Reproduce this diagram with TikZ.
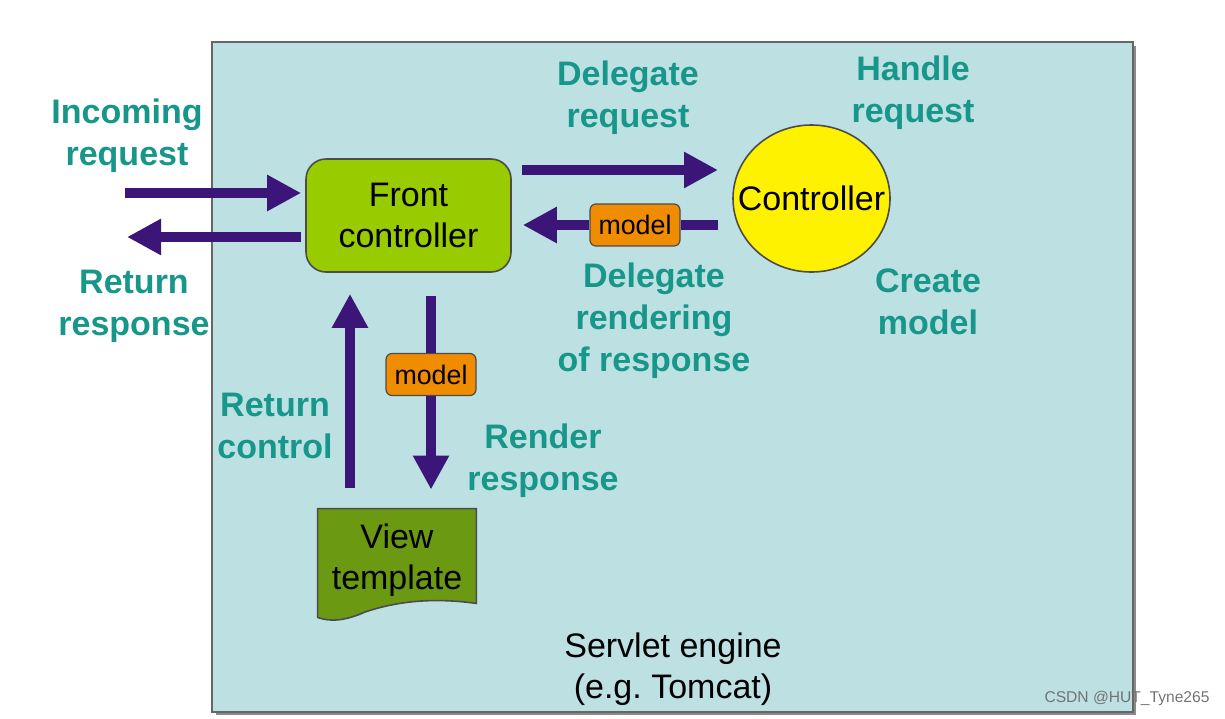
\documentclass[tikz,border=0pt]{standalone}
\usepackage{fontspec}
\setmainfont{Liberation Sans}
\usetikzlibrary{positioning}
\usetikzlibrary{arrows.meta}
\definecolor{skyback}{HTML}{BDE0E3}
\definecolor{tealtext}{HTML}{17968A}
\definecolor{arrowpurple}{HTML}{3B1678}
\definecolor{limegreen}{HTML}{99CC00}
\definecolor{olivegreen}{HTML}{6B9A12}
\definecolor{modelorange}{HTML}{F08C00}
\tikzset{>={Triangle[length=17pt,width=17pt]},
	% arrow style
	flow/.style={draw=arrowpurple,line width=5pt},
	% teal labels
	note/.style={text=tealtext,font=\fontsize{17}{21}\selectfont\bfseries,align=center},
	% boxes
	fcbox/.style={draw=black!70,fill=limegreen,rounded corners=10pt,line width=0.8pt,
		minimum width=102.5pt,minimum height=56.5pt,align=center,font=\fontsize{17}{20.5}\selectfont},
	modelbox/.style={draw=black!70,fill=modelorange,rounded corners=3pt,line width=0.6pt,
		minimum width=45pt,minimum height=21pt,inner sep=0pt,font=\fontsize{13.4}{16}\selectfont},
}

\begin{document}
\begin{tikzpicture}[x=0.5pt,y=-0.5pt]
\useasboundingbox (0,0) rectangle (1225,718);
% the servlet engine area
\fill[black!45] (216,46) rectangle (1136,715);
\draw[fill=skyback,draw=black!60,line width=0.8pt] (212,42) rectangle (1133,712);
% the nodes
\node[fcbox] (fc) at (408.5,215.5) {Front\\controller};
\fill[yellow,draw=black!70,line width=0.8pt] (811.5,198.5) ellipse (39.25pt and 36.75pt);
\node[inner sep=0pt,font=\fontsize{17}{20}\selectfont] (ctrl) at (811.5,198.5) {Controller};
\node[minimum width=79pt,minimum height=56.5pt,inner sep=0pt] (view) at (397,565.5) {};
\fill[olivegreen,draw=black!70,line width=0.8pt] (view.north west) -- (view.north east)
	-- ([yshift=9.5pt]view.south east) .. controls (430,597) and (395,602) .. (365,612)
	.. controls (345,621) and (330,622) .. ([yshift=2.5pt]view.south west) -- cycle;
\node[align=center,font=\fontsize{17}{20.5}\selectfont] (viewtext) at (397,560) {View\\template};
\node[modelbox] (mb1) at (635,225) {model};
\node[modelbox] (mb2) at (431,374.5) {model};
% free ends outside the engine
\coordinate (inreq) at (125,193);
\coordinate (outresp) at (127,237);
% the arrows
\draw[flow,->] (inreq) -- ([xshift=-2pt,yshift=11.25pt]fc.west);
\draw[flow,->] ([xshift=-2pt,yshift=-10.75pt]fc.west) -- (outresp);
\draw[flow,->] ([xshift=5pt,yshift=22.75pt]fc.east) -- ([xshift=-46.75pt,yshift=14.25pt]ctrl.center);
\draw[flow] ([xshift=-46.75pt,yshift=-13.25pt]ctrl.center) -- (mb1.east);
\draw[flow,->] (mb1.west) -- ([xshift=5.5pt,yshift=-4.75pt]fc.east);
\draw[flow] ([xshift=11.25pt,yshift=-11.5pt]fc.south) -- (mb2.north);
\draw[flow,->] (mb2.south) -- ([xshift=17pt,yshift=9.5pt]view.north);
\draw[flow,->] ([xshift=-23.5pt,yshift=10.5pt]view.north) -- ([xshift=-29.25pt,yshift=-10.5pt]fc.south);
% the labels
\node[note] (l1) at (127,136) {Incoming\\request};
\node[note] (l2) at (134,306) {Return\\response};
\node[note] (l3) at (628,98) {Delegate\\request};
\node[note] (l4) at (913,93) {Handle\\request};
\node[note] (l5) at (654,321) {Delegate\\rendering\\of response};
\node[note] (l6) at (928,302) {Create\\model};
\node[note] (l7) at (275,426) {Return\\control};
\node[note] (l8) at (543,461) {Render\\response};
\node[align=center,font=\fontsize{17}{20.5}\selectfont] (engine) at (673,669) {Servlet engine\\(e.g.\ Tomcat)};
\node[text=black!55,font=\fontsize{7.8}{9}\selectfont] (mark) at (1127,698) {CSDN @HUT\_Tyne265};
\end{tikzpicture}
\end{document}
